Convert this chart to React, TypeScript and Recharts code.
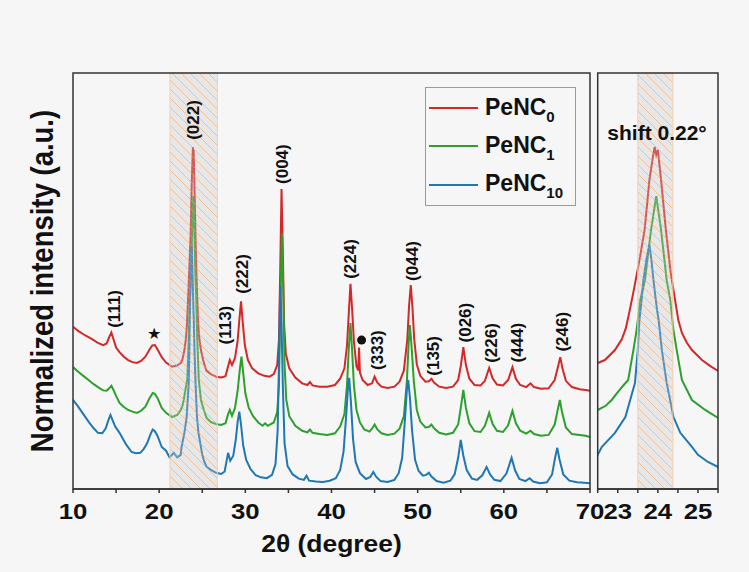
import React from "react";
import { Label, Legend, Line, LineChart, ReferenceArea, ReferenceDot, XAxis, YAxis } from "recharts";

const FONT = "'Liberation Sans', Arial, Helvetica, sans-serif";

// [2θ, normalised intensity with stacking offset]
const pe0: [number, number][] = [
  [10, 39.0], [10.6, 38.0], [11.2, 37.2], [11.8, 36.5], [12.4, 35.8], [12.9, 35.1], [13.5, 34.6], [13.9, 35.0],
  [14.2, 36.5], [14.45, 37.6], [14.7, 36.0], [15.0, 34.0], [15.4, 32.9], [15.9, 31.8], [16.4, 31.0], [16.9, 30.5],
  [17.4, 30.3], [17.9, 30.8], [18.4, 31.8], [18.9, 33.6], [19.2, 34.5], [19.5, 34.6], [19.8, 33.6], [20.3, 31.7],
  [20.8, 30.4], [21.5, 29.4], [22.1, 29.7], [22.5, 30.3], [22.68, 31.0], [22.93, 33.4], [23.1, 36.0], [23.2, 38.6],
  [23.3, 43.0], [23.4, 47.8], [23.55, 55.5], [23.67, 62.3], [23.79, 74.3], [23.88, 80.0], [23.92, 82.2], [23.96, 80.3],
  [24.0, 81.5], [24.08, 74.3], [24.2, 62.3], [24.32, 52.0], [24.43, 45.4], [24.51, 40.6], [24.6, 37.5], [24.72, 35.2],
  [24.85, 33.4], [25.1, 31.0], [25.3, 29.6], [25.5, 28.4], [26.0, 27.6], [26.6, 27.0], [27.2, 26.8], [27.7, 27.1],
  [28.0, 29.5], [28.2, 31.0], [28.45, 29.8], [28.8, 31.5], [29.1, 35.5], [29.3, 40.5], [29.5, 45.1], [29.7, 40.0],
  [29.95, 34.5], [30.3, 31.0], [30.8, 29.0], [31.5, 27.8], [32.2, 27.2], [32.8, 27.0], [33.3, 27.6], [33.7, 29.8],
  [33.9, 35.8], [34.05, 52.6], [34.2, 72.1], [34.35, 57.7], [34.5, 39.5], [34.7, 32.5], [35.1, 29.0], [35.8, 26.8],
  [36.6, 25.4], [37.2, 25.0], [37.5, 25.7], [37.8, 24.9], [38.6, 24.6], [39.5, 24.6], [40.4, 25.0], [41.0, 26.5],
  [41.5, 29.0], [41.8, 34.5], [42.0, 42.0], [42.2, 49.3], [42.4, 43.0], [42.6, 35.5], [42.9, 29.5], [43.1, 28.5],
  [43.2, 34.0], [43.3, 28.0], [43.6, 26.2], [44.2, 25.0], [44.7, 25.4], [45.0, 27.0], [45.3, 25.6], [45.8, 24.6],
  [46.5, 24.3], [47.3, 24.6], [47.9, 25.8], [48.4, 28.5], [48.8, 36.0], [49.0, 44.0], [49.2, 49.0], [49.4, 43.5],
  [49.6, 36.0], [49.9, 30.0], [50.3, 27.2], [50.9, 25.8], [51.3, 25.9], [51.6, 26.5], [51.9, 25.6], [52.5, 24.6],
  [53.3, 24.3], [54.1, 24.6], [54.7, 26.2], [55.0, 29.5], [55.3, 34.1], [55.6, 29.8], [56.0, 26.5], [56.6, 25.0],
  [57.3, 24.9], [57.8, 26.0], [58.3, 29.1], [58.7, 26.6], [59.2, 25.1], [59.9, 24.9], [60.5, 26.2], [61.0, 29.3],
  [61.4, 26.5], [61.9, 25.0], [62.6, 24.5], [63.1, 25.4], [63.5, 24.5], [64.3, 24.1], [65.2, 24.2], [65.9, 26.2],
  [66.3, 29.5], [66.55, 31.7], [66.8, 29.0], [67.2, 26.0], [67.9, 24.5], [68.8, 24.0], [69.5, 23.8], [70, 23.6],
];

const pe1: [number, number][] = [
  [10, 29.3], [10.6, 28.2], [11.2, 27.2], [11.8, 26.2], [12.4, 25.2], [12.9, 24.5], [13.5, 23.7], [13.9, 23.6],
  [14.2, 24.2], [14.45, 24.8], [14.7, 23.8], [15.0, 22.4], [15.4, 20.7], [15.9, 19.7], [16.4, 19.0], [16.9, 18.6],
  [17.4, 18.3], [17.9, 18.8], [18.4, 19.8], [18.9, 21.9], [19.25, 23.1], [19.5, 22.9], [19.8, 21.9], [20.3, 19.5],
  [20.8, 18.3], [21.5, 17.3], [22.1, 17.8], [22.5, 19.0], [22.7, 20.0], [22.85, 21.4], [23.0, 23.3], [23.15, 25.0],
  [23.26, 26.2], [23.39, 33.4], [23.47, 38.2], [23.56, 45.4], [23.68, 50.2], [23.83, 62.3], [23.96, 70.4], [24.08, 62.3],
  [24.22, 50.2], [24.31, 45.4], [24.39, 38.2], [24.47, 33.4], [24.6, 26.2], [24.85, 21.4], [25.18, 19.0], [25.5, 17.1],
  [26.0, 16.1], [26.6, 15.6], [27.2, 15.4], [27.7, 15.8], [28.0, 18.0], [28.2, 19.0], [28.45, 17.6], [28.8, 19.5],
  [29.1, 23.5], [29.35, 28.5], [29.55, 31.8], [29.75, 28.0], [30.0, 23.0], [30.4, 19.5], [30.9, 17.5], [31.5, 16.0],
  [32.0, 15.2], [32.3, 15.8], [32.6, 15.2], [33.3, 16.0], [33.7, 18.5], [33.9, 25.0], [34.05, 42.0], [34.25, 61.5],
  [34.4, 48.0], [34.55, 30.0], [34.75, 21.5], [35.1, 17.5], [35.8, 15.2], [36.6, 14.0], [37.2, 13.6], [37.5, 14.3],
  [37.8, 13.5], [38.6, 13.2], [39.5, 13.0], [40.4, 13.4], [41.0, 15.0], [41.5, 18.0], [41.8, 25.0], [42.0, 33.5],
  [42.2, 39.9], [42.4, 33.0], [42.6, 25.0], [42.9, 19.0], [43.3, 16.0], [43.8, 14.3], [44.4, 13.8], [44.7, 14.5],
  [45.0, 15.5], [45.3, 14.4], [45.8, 13.4], [46.5, 13.0], [47.3, 13.3], [47.9, 14.5], [48.4, 17.5], [48.75, 26.0],
  [48.95, 35.0], [49.1, 39.4], [49.3, 34.0], [49.55, 26.0], [49.9, 19.0], [50.3, 16.2], [50.9, 14.8], [51.3, 14.9],
  [51.6, 15.5], [51.9, 14.6], [52.5, 13.5], [53.3, 13.1], [54.1, 13.5], [54.7, 15.5], [55.0, 19.5], [55.3, 23.8],
  [55.6, 19.5], [56.0, 15.8], [56.6, 13.9], [57.3, 13.7], [57.8, 15.2], [58.3, 18.3], [58.7, 15.6], [59.2, 14.0],
  [59.9, 13.7], [60.5, 15.3], [61.0, 18.8], [61.4, 15.8], [61.9, 14.0], [62.6, 13.3], [63.1, 14.0], [63.5, 13.2],
  [64.3, 12.8], [65.2, 13.0], [65.9, 15.5], [66.3, 19.5], [66.5, 21.4], [66.75, 18.5], [67.2, 14.8], [67.9, 13.2],
  [68.8, 13.0], [69.5, 12.8], [70, 12.5],
];

const pe10: [number, number][] = [
  [10, 21.4], [10.6, 19.8], [11.2, 18.0], [11.8, 16.2], [12.4, 14.6], [12.9, 13.5], [13.4, 13.4], [13.8, 14.6],
  [14.1, 16.5], [14.35, 17.8], [14.6, 16.5], [14.9, 15.0], [15.4, 13.5], [15.8, 12.0], [16.2, 10.6], [16.8, 8.9],
  [17.3, 8.6], [17.8, 8.7], [18.2, 9.6], [18.6, 11.0], [19.0, 13.2], [19.25, 14.3], [19.5, 13.9], [19.8, 12.8],
  [20.3, 10.1], [20.8, 9.2], [21.2, 7.6], [21.7, 8.7], [22.1, 7.6], [22.5, 8.2], [22.6, 10.1], [22.93, 13.5],
  [23.19, 17.3], [23.43, 25.5], [23.5, 33.4], [23.54, 40.6], [23.58, 44.0], [23.64, 50.2], [23.72, 55.5], [23.79, 58.7],
  [23.84, 55.0], [23.89, 50.2], [23.98, 43.0], [24.02, 40.6], [24.1, 33.4], [24.22, 25.5], [24.39, 17.3], [24.56, 13.5],
  [24.85, 10.1], [25.0, 8.2], [25.25, 6.5], [25.5, 5.3], [26.0, 4.6], [26.6, 3.9], [27.2, 3.6], [27.6, 4.2],
  [27.85, 7.0], [28.0, 8.7], [28.25, 6.8], [28.6, 8.0], [28.9, 12.0], [29.1, 16.0], [29.3, 18.6], [29.5, 15.5],
  [29.75, 10.5], [30.1, 7.0], [30.6, 4.8], [31.2, 3.3], [31.8, 2.8], [32.5, 2.6], [33.1, 3.4], [33.5, 6.0],
  [33.75, 14.0], [33.9, 30.0], [34.05, 49.0], [34.2, 40.0], [34.35, 25.0], [34.55, 11.0], [34.9, 5.5], [35.5, 3.5],
  [36.2, 2.5], [36.8, 2.2], [37.1, 3.2], [37.4, 2.0], [38.2, 1.8], [39.0, 1.7], [39.8, 2.0], [40.5, 2.6],
  [41.0, 4.5], [41.4, 9.0], [41.7, 17.5], [41.9, 24.0], [42.05, 26.7], [42.25, 21.0], [42.5, 12.0], [42.8, 6.5],
  [43.3, 3.8], [44.0, 2.4], [44.5, 2.9], [44.85, 4.1], [45.2, 2.9], [45.7, 1.9], [46.5, 1.7], [47.3, 2.2],
  [47.8, 3.8], [48.2, 7.5], [48.55, 17.5], [48.75, 24.0], [48.9, 26.2], [49.1, 22.0], [49.35, 14.0], [49.7, 7.0],
  [50.1, 4.4], [50.6, 3.2], [51.0, 3.4], [51.3, 3.9], [51.6, 3.0], [52.2, 1.9], [53.0, 1.5], [53.8, 2.0],
  [54.3, 3.6], [54.7, 7.5], [55.0, 11.8], [55.3, 8.0], [55.7, 4.5], [56.3, 2.5], [56.9, 2.2], [57.5, 3.3],
  [58.0, 5.3], [58.4, 3.5], [58.9, 2.2], [59.6, 1.9], [60.3, 3.7], [60.9, 7.5], [61.3, 4.5], [61.8, 2.4],
  [62.5, 1.9], [63.0, 2.6], [63.4, 1.8], [64.2, 1.4], [65.0, 1.6], [65.6, 3.5], [65.95, 7.5], [66.2, 9.9],
  [66.45, 7.2], [66.9, 3.5], [67.6, 2.0], [68.5, 1.6], [69.3, 1.5], [70, 1.4],
];

const seriesSubs = ["0", "1", "10"];
const seriesColors = ["#d62728", "#2ca02c", "#1f77b4"];
const seriesData = [pe0, pe1, pe10];

const mainTicks = [10, 15, 20, 25, 30, 35, 40, 45, 50, 55, 60, 65, 70];
const zoomTicks = [22.5, 23, 23.5, 24, 24.5, 25, 25.5];
const mainBand = [21.25, 26.75];
const zoomBand = [23.5, 24.375];

// peak indices: [label, 2θ, height]
const hklLabels: [string, number, number][] = [
  ["(111)", 14.76, 43.3], ["(022)", 24.04, 88.7], ["(113)", 27.69, 39.4], ["(222)", 29.66, 51.7],
  ["(004)", 34.3, 78.1], ["(224)", 42.19, 55.3], ["(333)", 45.32, 33.4], ["(044)", 49.38, 54.8],
  ["(135)", 51.88, 32.0], ["(026)", 55.53, 40.0], ["(226)", 58.55, 35.1], ["(444)", 61.57, 35.2],
  ["(246)", 66.79, 37.8],
];
const starMark = [19.43, 37.4];
const dotMark = [43.49, 35.8];
const shiftNote: [string, number, number] = ["shift 0.22°", 23.98, 85.6];

const toPoints = (arr: [number, number][]) => arr.map(([x, y]) => ({ x, y }));

function StretchTick(props: any) {
  const { x, y, payload, show } = props;
  if (!show(payload.value)) return <g />;
  return (
    <text
      transform={`translate(${x},${y}) scale(1.12,1)`}
      textAnchor="middle"
      dy="0.71em"
      fontSize={23}
      fontWeight={700}
      fill="#111"
      fontFamily={FONT}
    >
      {payload.value}
    </text>
  );
}

function HatchDefs({ id }: { id: string }) {
  return (
    <defs>
      <pattern id={id} width="9" height="9" patternUnits="userSpaceOnUse">
        <rect width="9" height="9" fill="#c8c8c8" fillOpacity={0.32} />
        <path d="M0,0 L9,9 M-3,6 L3,12 M6,-3 L12,3" stroke="#f4a15a" strokeWidth={0.9} strokeOpacity={0.6} />
      </pattern>
    </defs>
  );
}

function renderLegend() {
  return (
    <div style={{ boxSizing: "border-box", width: 151, height: 119, border: "1px solid #9a9a9a", paddingTop: 1, fontFamily: FONT }}>
      {seriesSubs.map((s, i) => (
        <div key={s} style={{ height: 38.3, display: "flex", alignItems: "center" }}>
          <svg width={52} height={4} style={{ marginLeft: 3 }}>
            <line x1={0} y1={2} x2={49} y2={2} stroke={seriesColors[i]} strokeWidth={2} />
          </svg>
          <span style={{ marginLeft: 4, fontSize: 23, fontWeight: 700, color: "#111", lineHeight: "23px" }}>
            PeNC
            <span style={{ fontSize: 15, position: "relative", top: 7 }}>{s}</span>
          </span>
        </div>
      ))}
    </div>
  );
}

const hklShape = (text: string) => (p: any) => (
  <text
    x={p.cx}
    y={p.cy}
    transform={`rotate(-90 ${p.cx} ${p.cy})`}
    textAnchor="middle"
    dominantBaseline="central"
    fontSize={17}
    fontWeight={700}
    fill="#111"
    fontFamily={FONT}
  >
    {text}
  </text>
);

export default function App() {
  const lines = seriesData.map((d, i) => (
    <Line
      key={seriesSubs[i]}
      data={toPoints(d)}
      dataKey="y"
      name={`PeNC${seriesSubs[i]}`}
      type="linear"
      stroke={seriesColors[i]}
      strokeWidth={2}
      dot={false}
      activeDot={false}
      isAnimationActive={false}
    />
  ));

  return (
    <div style={{ position: "absolute", left: 0, top: 0, width: 749, height: 572, background: "#f6f6f6", overflow: "hidden" }}>
      <div style={{ position: "absolute", left: 0, top: 0 }}>
        <LineChart width={610} height={572} margin={{ top: 73, right: 20, bottom: 0, left: 0 }}>
          <HatchDefs id="hatchMain" />
          <XAxis
            type="number"
            dataKey="x"
            domain={[10, 70]}
            ticks={mainTicks}
            interval={0}
            allowDataOverflow
            height={83}
            tickSize={4}
            tickMargin={10}
            axisLine={{ stroke: "#333", strokeWidth: 1.5 }}
            tickLine={{ stroke: "#333", strokeWidth: 1.5 }}
            tick={(p: any) => <StretchTick {...p} show={(v: number) => v % 10 === 0} />}
          >
            <Label
              content={() => (
                <text transform="translate(331.5,551.7) scale(1.15,1)" textAnchor="middle" fontSize={23} fontWeight={700} fill="#111" fontFamily={FONT}>
                  2θ (degree)
                </text>
              )}
            />
          </XAxis>
          <YAxis type="number" domain={[0, 100]} allowDataOverflow width={73} tick={false} tickLine={false} axisLine={false}>
            <Label
              content={() => (
                <text transform="translate(53,281) rotate(-90) scale(0.86,1)" textAnchor="middle" fontSize={32} fontWeight={700} fill="#111" fontFamily={FONT}>
                  Normalized intensity (a.u.)
                </text>
              )}
            />
          </YAxis>
          {lines}
          <ReferenceArea x1={mainBand[0]} x2={mainBand[1]} y1={0} y2={100} fill="url(#hatchMain)" fillOpacity={1} stroke="#f6cdaa" strokeWidth={1} ifOverflow="visible" zIndex={450} />
          <ReferenceArea x1={10} x2={70} y1={0} y2={100} fill="none" stroke="#333" strokeWidth={1.5} ifOverflow="visible" zIndex={550} />
          {hklLabels.map(([t, x, y]) => (
            <ReferenceDot key={t} x={x} y={y} r={1} ifOverflow="visible" shape={hklShape(t)} />
          ))}
          <ReferenceDot
            x={starMark[0]}
            y={starMark[1]}
            r={1}
            ifOverflow="visible"
            shape={(p: any) => (
              <text x={p.cx} y={p.cy} textAnchor="middle" dominantBaseline="central" fontSize={16} fill="#111" fontFamily="'DejaVu Sans'">
                ★
              </text>
            )}
          />
          <ReferenceDot x={dotMark[0]} y={dotMark[1]} r={4.5} fill="#111" stroke="none" ifOverflow="visible" />
          <Legend
            layout="horizontal"
            verticalAlign="middle"
            align="center"
            wrapperStyle={{ position: "absolute", left: 425, top: 87, width: 151, height: 119 }}
            content={renderLegend}
          />
        </LineChart>
      </div>
      <div style={{ position: "absolute", left: 590, top: 0 }}>
        <LineChart width={159} height={572} margin={{ top: 73, right: 31, bottom: 0, left: 7.7 }}>
          <HatchDefs id="hatchZoom" />
          <XAxis
            type="number"
            dataKey="x"
            domain={[22.5, 25.5]}
            ticks={zoomTicks}
            interval={0}
            allowDataOverflow
            height={83}
            tickSize={4}
            tickMargin={10}
            axisLine={{ stroke: "#333", strokeWidth: 1.5 }}
            tickLine={{ stroke: "#333", strokeWidth: 1.5 }}
            tick={(p: any) => <StretchTick {...p} show={(v: number) => Number.isInteger(v) && v > 22.5 && v < 25.5} />}
          />
          <YAxis type="number" domain={[0, 100]} allowDataOverflow hide />
          {lines}
          <ReferenceArea x1={zoomBand[0]} x2={zoomBand[1]} y1={0} y2={100} fill="url(#hatchZoom)" fillOpacity={1} stroke="#f6cdaa" strokeWidth={1} ifOverflow="visible" zIndex={450} />
          <ReferenceArea x1={22.5} x2={25.5} y1={0} y2={100} fill="none" stroke="#333" strokeWidth={1.5} ifOverflow="visible" zIndex={550} />
          <ReferenceDot
            x={shiftNote[1]}
            y={shiftNote[2]}
            r={1}
            ifOverflow="visible"
            shape={(p: any) => (
              <text x={p.cx} y={p.cy} textAnchor="middle" dominantBaseline="central" fontSize={21} fontWeight={700} fill="#111" fontFamily={FONT}>
                {shiftNote[0]}
              </text>
            )}
          />
        </LineChart>
      </div>
    </div>
  );
}
